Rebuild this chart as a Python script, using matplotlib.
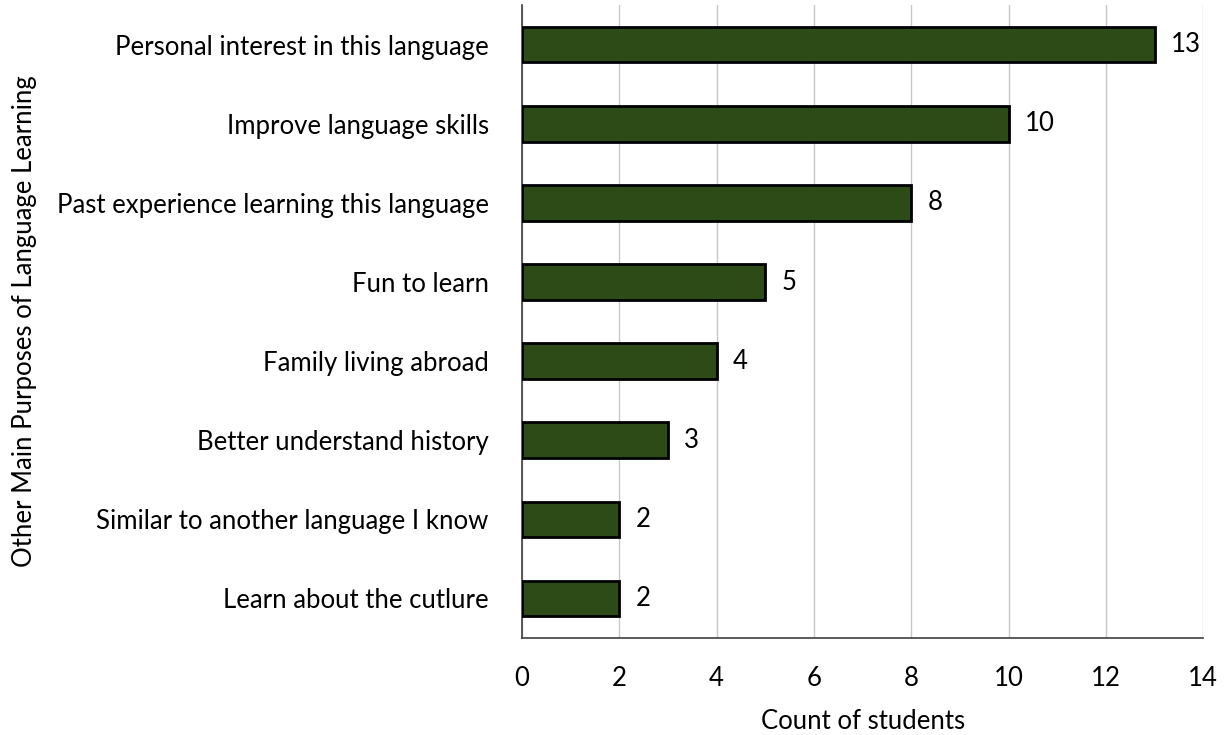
import matplotlib.pyplot as plt
import numpy as np

plt.rcParams["font.family"] = ["Lato", "DejaVu Sans"]

purposes = [
    "Personal interest in this language",
    "Improve language skills",
    "Past experience learning this language",
    "Fun to learn",
    "Family living abroad",
    "Better understand history",
    "Similar to another language I know",
    "Learn about the cutlure",
]
counts = [13, 10, 8, 5, 4, 3, 2, 2]
xticks = [0, 2, 4, 6, 8, 10, 12, 14]

fs = 18.5
fig, ax = plt.subplots(figsize=(12.24, 7.35), dpi=100)
fig.subplots_adjust(left=0.4265, right=0.983, top=0.993, bottom=0.132)

ypos = np.arange(len(purposes))
ax.barh(ypos, counts, height=0.45, color="#2c4b16", edgecolor="black", linewidth=2, zorder=3)
for y, c in zip(ypos, counts):
    ax.text(c + 0.33, y, str(c), va="center", ha="left", fontsize=fs)

ax.set_yticks(ypos)
ax.set_yticklabels(purposes, fontsize=fs)
ax.set_ylim(len(purposes) - 0.5, -0.5)
ax.set_xlim(0, 14)
ax.set_xticks(xticks)
ax.tick_params(axis="x", labelsize=fs, length=0, pad=20)
ax.tick_params(axis="y", length=0, pad=24)
ax.grid(axis="x", color="#c8c8c8", linewidth=1, zorder=0)
for s in ["top", "right"]:
    ax.spines[s].set_visible(False)
for s in ["left", "bottom"]:
    ax.spines[s].set_color("#404040")
    ax.spines[s].set_linewidth(1.2)

ax.set_xlabel("Count of students", fontsize=fs, labelpad=13)
ax.set_ylabel("Other Main Purposes of Language Learning", fontsize=18.5)
ax.yaxis.set_label_coords(-0.712, 0.5)

fig.savefig("out.png", dpi=100)
